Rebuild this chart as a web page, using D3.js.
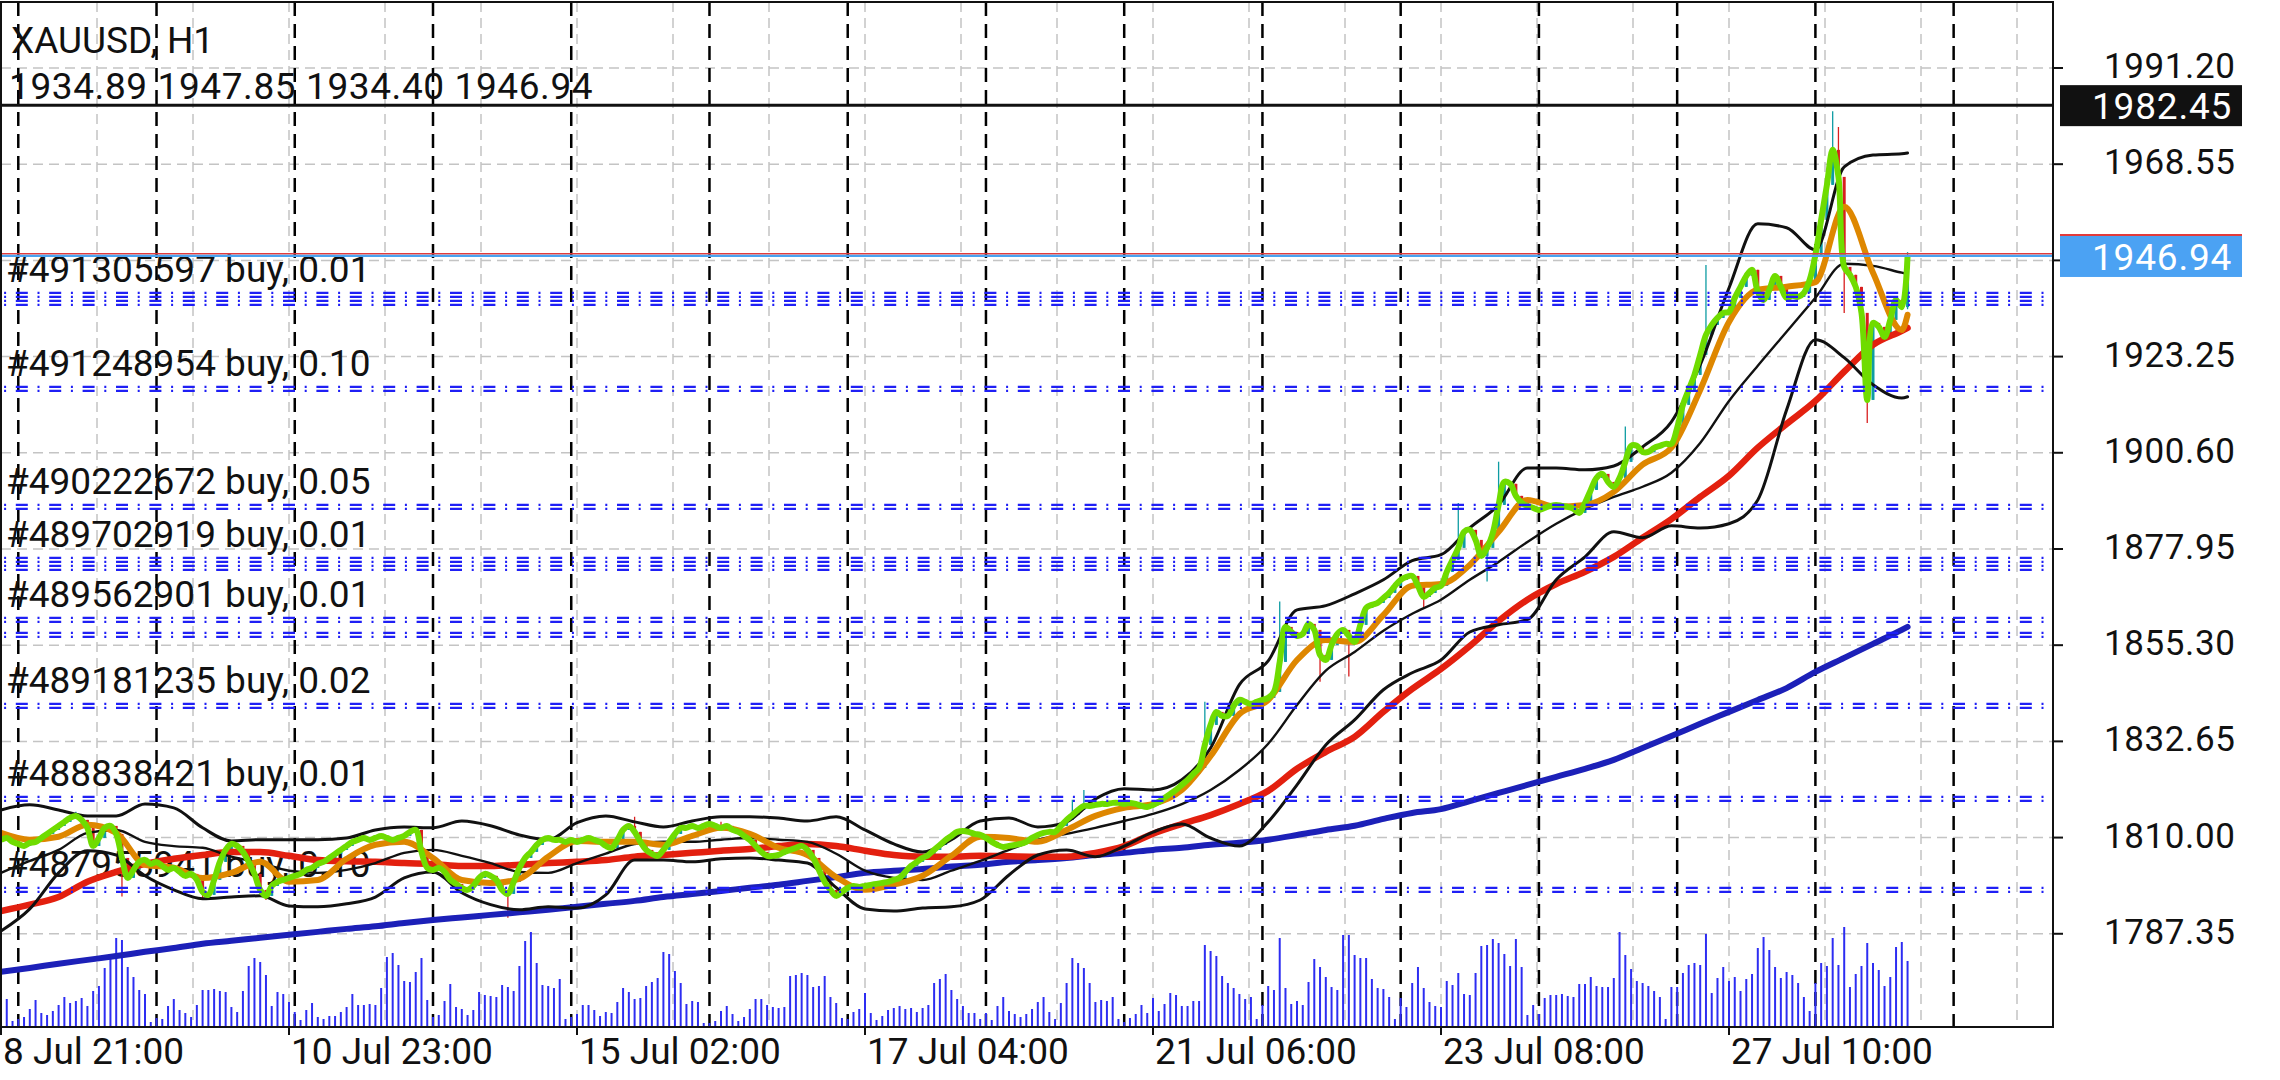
<!DOCTYPE html>
<html><head><meta charset="utf-8">
<script src="https://cdn.jsdelivr.net/npm/d3@7"></script>
<style>body{margin:0;background:#fff}svg{display:block}text{font-family:Roboto,"Noto Sans",sans-serif}</style>
</head><body>
<svg id="c" width="2280" height="1080"></svg>
<script>
const symbolLabel = "XAUUSD, H1";
const lastOHLC = [1934.89, 1947.85, 1934.40, 1946.94];
const alertPrice = 1982.45;
const bidPrice = 1946.94;
const askPrice = 1947.45;

const closes = [
1809.45,1809.92,1808.98,1808.51,1808.04,1808.75,1808.98,1809.92,1810.86,1811.81,
1812.75,1813.69,1814.63,1815.10,1814.16,1812.28,1808.04,1809.92,1812.28,1812.75,
1810.86,1805.21,1800.51,1802.39,1804.27,1804.74,1803.80,1804.27,1803.33,1802.39,
1802.86,1801.92,1800.98,1801.45,1800.04,1797.21,1796.51,1800.04,1804.27,1807.10,
1808.51,1808.04,1806.63,1804.27,1801.45,1797.68,1796.27,1798.62,1799.56,1800.04,
1800.51,1800.98,1801.45,1802.39,1802.86,1803.80,1804.27,1805.21,1806.16,1807.10,
1808.04,1808.98,1809.45,1809.92,1809.45,1809.92,1810.39,1809.92,1809.45,1809.92,
1810.39,1811.34,1811.81,1806.63,1802.86,1802.39,1802.86,1801.92,1800.04,1799.09,
1798.15,1797.68,1798.62,1800.51,1801.45,1800.98,1800.04,1797.68,1796.74,1799.56,
1802.86,1805.21,1806.63,1808.27,1809.45,1809.92,1809.45,1809.45,1808.98,1809.45,
1808.98,1809.45,1809.92,1809.45,1808.98,1808.04,1807.57,1809.45,1811.81,1812.75,
1811.34,1808.98,1807.10,1806.16,1805.69,1807.10,1808.98,1810.86,1812.28,1812.28,
1812.75,1812.28,1812.75,1813.22,1812.75,1812.28,1812.75,1811.81,1811.34,1810.39,
1809.45,1808.04,1806.63,1805.69,1805.69,1805.92,1806.63,1807.10,1807.57,1808.04,
1807.10,1805.21,1802.39,1799.56,1797.68,1796.27,1797.21,1798.15,1798.62,1798.39,
1798.62,1798.86,1799.09,1799.33,1799.56,1800.04,1800.51,1801.92,1803.33,1804.27,
1805.21,1805.92,1807.10,1808.27,1809.45,1810.39,1811.34,1811.57,1811.34,1810.86,
1810.63,1809.92,1808.98,1808.27,1807.80,1808.04,1808.27,1808.51,1808.98,1809.92,
1810.63,1811.10,1811.34,1811.34,1812.75,1814.16,1815.34,1816.52,1817.46,1817.46,
1817.69,1817.93,1817.93,1818.17,1818.17,1817.93,1818.17,1817.93,1817.46,1817.22,
1817.69,1818.40,1819.34,1820.29,1821.23,1822.41,1823.58,1825.00,1826.41,1831.82,
1836.53,1839.59,1838.65,1838.65,1841.01,1842.42,1841.95,1841.48,1841.95,1842.42,
1842.89,1844.30,1851.36,1859.60,1858.42,1857.48,1857.95,1860.31,1858.90,1853.01,
1851.84,1855.37,1857.95,1858.90,1857.48,1856.07,1860.08,1864.08,1864.79,1865.26,
1866.43,1867.61,1869.26,1870.67,1871.38,1871.61,1869.26,1866.67,1867.61,1868.79,
1869.26,1872.56,1875.38,1878.21,1881.97,1882.45,1880.09,1876.32,1878.21,1881.74,
1888.33,1893.74,1893.28,1890.45,1888.80,1888.09,1887.63,1887.15,1887.63,1888.09,
1888.33,1888.09,1887.86,1887.39,1886.45,1888.80,1891.86,1894.69,1895.63,1893.74,
1892.57,1894.69,1898.46,1902.23,1902.23,1900.81,1900.81,1901.75,1902.23,1902.70,
1902.70,1906.47,1911.88,1915.41,1918.94,1923.65,1928.36,1930.71,1932.36,1933.54,
1933.78,1937.07,1939.66,1942.25,1943.67,1938.49,1936.60,1938.96,1942.25,1939.66,
1937.07,1937.55,1937.31,1938.25,1941.31,1947.20,1955.44,1963.68,1971.92,1965.56,
1944.37,1942.49,1939.66,1933.54,1913.05,1931.18,1930.24,1927.89,1931.89,1936.60,
1934.89,1946.94];

const spikeBars  = [13,21,35,46,88,110,125,145,186,188,209,222,229,234,247,253,258,260,282,296,318,319,320,324,331];
const spikeHighs = [1816.1,null,null,null,null,1814.9,1813.7,null,1818.9,1821.2,1842.0,1865.6,null,null,null,1888.8,null,1898.5,1906.8,1944.8,1981.0,1977.3,null,null,1947.85];
const spikeLows  = [null,1796.1,1795.5,1795.3,1791.1,null,null,1795.8,null,null,null,null,1846.7,1847.9,1864.1,null,1870.3,null,null,null,null,null,1933.5,1907.6,1934.40];

const volumes = [
35,28,6,8,10,18,27,14,12,16,22,30,24,
26,29,21,36,41,59,70,89,87,60,50,37,33,5,9,8,21,28,17,14,10,22,37,37,38,
36,35,20,15,36,61,69,65,52,21,35,33,25,15,7,17,24,10,8,11,11,15,20,33,22,
22,23,22,39,70,74,62,46,45,55,69,27,10,12,26,43,20,18,12,17,35,32,31,30,42,
40,36,61,86,95,64,42,41,39,48,8,10,13,22,22,17,11,15,14,25,39,35,28,29,41,
45,49,75,73,56,44,23,26,25,4,4,6,16,21,13,6,10,18,28,28,22,20,19,20,51,
52,54,52,40,41,51,30,24,9,8,15,18,34,14,7,11,17,19,21,18,19,15,19,22,44,
48,53,37,28,21,14,14,8,14,7,
21,30,16,13,10,13,18,25,30,15,8,24,44,69,64,59,44,25,27,26,30,8,5,9,13,22,14,
29,16,23,34,32,21,21,26,26,82,76,71,51,44,39,33,28,30,8,22,41,37,89,39,23,26,22,45,68,60,50,40,
37,92,92,72,69,69,48,39,38,30,8,29,20,44,60,39,25,21,20,46,42,54,33,32,54,81,82,88,84,73,
61,88,60,12,22,13,29,32,32,33,31,30,43,43,50,41,40,40,49,95,72,58,46,44,41,36,30,8,40,40,54,62,64,
62,93,34,49,60,46,50,36,48,53,79,90,77,60,49,55,52,44,30,16,44,64,61,89,62,100,40,53,61,84,64,57,41,50,80,85,66];

// indicator readings, one value every 5 bars (bars 0,5,...,330) plus the last bar 331
const maOrange = [1811.1,1809.5,1810.2,1813.0,1811.1,1803.6,1802.9,1800.5,1801.7,1804.3,1799.6,1800.0,1805.0,1808.3,1809.0,1805.2,1800.0,1799.3,1800.3,1805.5,1809.2,1809.0,1809.0,1808.3,1810.4,1812.3,1810.9,1807.6,1805.9,1800.7,1797.7,1798.9,1801.0,1805.7,1810.2,1809.9,1809.0,1811.8,1815.1,1817.0,1817.9,1821.2,1829.2,1839.1,1842.4,1851.8,1856.5,1856.1,1862.4,1869.3,1869.7,1874.2,1882.0,1889.5,1887.9,1888.3,1891.4,1897.8,1901.8,1915.4,1931.4,1939.0,1939.7,1940.8,1958.5,1943.0,1929.5,1933.1];
const maRed = [1792.7,1794.2,1796.0,1799.6,1801.9,1803.8,1805.0,1805.9,1806.6,1806.6,1805.7,1804.7,1804.4,1804.3,1804.0,1803.8,1803.3,1803.3,1803.6,1804.0,1804.3,1804.7,1805.5,1805.9,1806.4,1806.9,1807.3,1808.0,1808.5,1808.0,1806.9,1805.9,1805.5,1805.5,1805.7,1805.6,1805.5,1805.5,1806.4,1808.0,1810.9,1813.2,1815.3,1817.9,1821.0,1826.2,1830.2,1833.7,1839.6,1845.0,1849.7,1855.1,1861.0,1866.0,1869.7,1872.6,1876.1,1880.6,1885.0,1890.2,1895.2,1901.8,1907.4,1912.8,1919.7,1926.0,1929.3,1930.0];
const maBlue = [1778.4,1779.3,1780.3,1781.2,1782.1,1783.1,1784.0,1785.0,1785.7,1786.4,1787.1,1787.8,1788.5,1789.1,1789.9,1790.6,1791.2,1791.8,1792.4,1793.0,1793.7,1794.4,1795.1,1796.0,1796.7,1797.4,1798.2,1798.9,1799.8,1800.7,1801.7,1802.2,1802.6,1803.2,1803.6,1804.3,1804.7,1805.2,1805.9,1806.4,1807.1,1807.6,1808.3,1808.8,1809.5,1810.6,1811.8,1812.8,1814.4,1815.8,1816.7,1818.6,1820.5,1822.4,1824.3,1826.2,1828.3,1831.1,1833.9,1836.8,1839.6,1842.4,1845.2,1849.0,1852.3,1855.6,1858.9,1859.6];
const bbUpper = [1816.5,1817.7,1816.5,1815.1,1815.1,1817.9,1817.0,1812.3,1809.2,1809.5,1809.5,1809.5,1809.9,1811.8,1812.5,1812.3,1813.9,1812.8,1810.6,1809.5,1813.5,1815.1,1813.7,1812.5,1813.9,1814.9,1814.9,1814.6,1813.9,1814.9,1811.8,1808.5,1806.6,1809.5,1813.9,1814.6,1812.5,1813.7,1819.1,1821.5,1821.2,1823.6,1831.1,1846.0,1851.6,1863.6,1864.6,1867.4,1870.7,1875.2,1876.6,1882.9,1888.3,1897.0,1897.0,1896.6,1897.5,1902.0,1907.9,1921.3,1939.4,1954.5,1953.6,1948.4,1967.9,1970.7,1971.0,1971.2];
const bbMiddle = [1801.7,1804.5,1807.1,1811.1,1811.8,1809.0,1808.0,1807.6,1805.5,1804.0,1802.2,1801.7,1802.4,1804.0,1806.4,1807.1,1805.7,1804.0,1801.9,1801.7,1804.0,1806.2,1808.5,1809.0,1809.0,1809.5,1809.9,1809.5,1809.0,1806.2,1802.2,1800.5,1800.0,1802.2,1804.5,1807.1,1809.5,1810.9,1812.3,1813.9,1815.6,1817.9,1821.2,1825.9,1832.1,1841.2,1849.3,1853.7,1858.7,1862.7,1866.0,1870.7,1874.9,1879.6,1883.9,1887.4,1890.2,1892.6,1895.9,1902.9,1912.8,1921.1,1929.1,1937.1,1945.1,1944.6,1943.0,1942.7];
const bbLower = [1788.0,1793.2,1801.7,1806.9,1805.9,1801.0,1797.7,1795.6,1796.0,1796.3,1793.9,1793.7,1794.4,1796.0,1800.5,1801.9,1797.0,1794.2,1793.0,1793.7,1793.4,1796.5,1804.7,1804.7,1804.3,1805.0,1805.2,1804.7,1804.0,1798.2,1793.2,1792.7,1793.4,1793.7,1795.3,1801.2,1805.9,1807.1,1805.5,1808.0,1811.3,1813.2,1809.9,1808.0,1813.7,1822.4,1831.8,1837.7,1844.8,1848.8,1851.8,1858.4,1860.1,1861.3,1870.7,1876.1,1882.0,1880.6,1883.4,1882.9,1883.9,1889.5,1910.7,1927.2,1923.0,1916.6,1913.5,1913.8];
const sampleBars = [0,5,10,15,20,25,30,35,40,45,50,55,60,65,70,75,80,85,90,95,100,105,110,115,120,125,130,135,140,145,150,155,160,165,170,175,180,185,190,195,200,205,210,215,220,225,230,235,240,245,250,255,260,265,270,275,280,285,290,295,300,305,310,315,320,325,330,331];

const priceTicks = [1991.20,1968.55,1945.90,1923.25,1900.60,1877.95,1855.30,1832.65,1810.00,1787.35];
const timeTickBars = [0,50,100,150,200,250,300];
const timeTickLabels = ["8 Jul 21:00","10 Jul 23:00","15 Jul 02:00","17 Jul 04:00","21 Jul 06:00","23 Jul 08:00","27 Jul 10:00"];
const daySeparatorBars = [3,27,51,75,99,123,147,171,195,219,243,267,291,315,339];

const orderPrices = [1938.25,1936.37,1916.12,1888.33,1875.85,1873.97,1861.72,1858.19,1841.48,1819.58,1798.15];
const orderLabels = ["#491305597 buy, 0.01","","#491248954 buy, 0.10","#490222672 buy, 0.05","#489702919 buy, 0.01","","#489562901 buy, 0.01","","#489181235 buy, 0.02","#488838421 buy, 0.01","#487955941 buy, 0.10"];

// ---------------- drawing ----------------
const svg = d3.select("#c");
const L = 1, R = 2053, T = 2, B = 1027;
const x = d3.scaleLinear().domain([0, 300]).range([1, 1729]);
const y = d3.scaleLinear().domain([1765.4, 2006.5]).range([B, 3]);
const vy = d3.scaleLinear().domain([0, 100]).range([B, B - 100]);

svg.append("rect").attr("width", 2280).attr("height", 1080).attr("fill", "#fff");
svg.append("clipPath").attr("id", "plot").append("rect").attr("x", L).attr("y", T).attr("width", R - L).attr("height", B - T);
const g = svg.append("g").attr("clip-path", "url(#plot)");

// grid
g.append("g").selectAll("line").data(priceTicks).join("line")
  .attr("x1", L).attr("x2", R).attr("y1", d => y(d)).attr("y2", d => y(d))
  .attr("stroke", "#c4c4c4").attr("stroke-width", 1.5).attr("stroke-dasharray", "10,6");
g.append("g").selectAll("line").data(d3.range(0, 22)).join("line")
  .attr("x1", k => x(k * 50 / 3)).attr("x2", k => x(k * 50 / 3)).attr("y1", T).attr("y2", B)
  .attr("stroke", "#c4c4c4").attr("stroke-width", 1.5).attr("stroke-dasharray", "10,6");
g.append("g").selectAll("line").data(daySeparatorBars).join("line")
  .attr("x1", d => x(d)).attr("x2", d => x(d)).attr("y1", T).attr("y2", B)
  .attr("stroke", "#000").attr("stroke-width", 2.5).attr("stroke-dasharray", "14,8");

// volumes
g.append("g").selectAll("line").data(volumes).join("line")
  .attr("x1", (d, i) => x(i)).attr("x2", (d, i) => x(i)).attr("y1", B).attr("y2", d => vy(d))
  .attr("stroke", "#2d2df2").attr("stroke-width", 2);

// top texts
svg.append("text").attr("x", 11).attr("y", 53).attr("font-size", 37).attr("fill", "#111").text(symbolLabel);
svg.append("text").attr("x", 9).attr("y", 99).attr("font-size", 37).attr("letter-spacing", 0.6).attr("fill", "#111")
  .text(lastOHLC.map(v => v.toFixed(2)).join(" "));

// order labels
g.append("g").selectAll("text").data(orderPrices.map((p, i) => ({p, t: orderLabels[i]})).filter(d => d.t)).join("text")
  .attr("x", 6).attr("y", d => y(d.p) - 11).attr("font-size", 37).attr("fill", "#111").text(d => d.t);

// candles
const candles = closes.map((c, i) => {
  const o = i === closes.length - 1 ? lastOHLC[0] : (i === 0 ? c : closes[i - 1]);
  let h = Math.max(o, c), l = Math.min(o, c);
  const k = spikeBars.indexOf(i);
  if (k >= 0) { if (spikeHighs[k] != null) h = Math.max(h, spikeHighs[k]); if (spikeLows[k] != null) l = Math.min(l, spikeLows[k]); }
  return {i, o, c, h, l};
});
const cg = g.append("g");
cg.selectAll("line").data(candles).join("line")
  .attr("x1", d => x(d.i)).attr("x2", d => x(d.i)).attr("y1", d => y(d.h)).attr("y2", d => y(d.l))
  .attr("stroke", d => d.c >= d.o ? "#0e9ca3" : "#d81e1e").attr("stroke-width", 1.3);
cg.selectAll("rect").data(candles).join("rect")
  .attr("x", d => x(d.i) - 1.5).attr("width", 3)
  .attr("y", d => y(Math.max(d.o, d.c))).attr("height", d => Math.max(1, Math.abs(y(d.o) - y(d.c))))
  .attr("fill", d => d.c >= d.o ? "#0e9ca3" : "#d81e1e");

// indicator lines
const sLine = d3.line().x(d => x(d[0])).y(d => y(d[1])).curve(d3.curveMonotoneX);
function drawSeries(vals, color, w) {
  g.append("path").datum(vals.map((v, k) => [sampleBars[k], v]))
    .attr("d", sLine).attr("fill", "none").attr("stroke", color).attr("stroke-width", w)
    .attr("stroke-linejoin", "round").attr("stroke-linecap", "round");
}
drawSeries(maBlue, "#1c20b8", 6);
drawSeries(maRed, "#e3200f", 6.5);
drawSeries(bbLower, "#111", 3);
drawSeries(bbMiddle, "#111", 2.4);
drawSeries(bbUpper, "#111", 3);
drawSeries(maOrange, "#de8700", 6);
g.append("path").datum(closes.map((c, i) => [i, c]))
  .attr("d", d3.line().x(d => x(d[0])).y(d => y(d[1])).curve(d3.curveCatmullRom))
  .attr("fill", "none").attr("stroke", "#6fdc00").attr("stroke-width", 6).attr("stroke-linejoin", "round");

// order lines (double dash-dot)
const og = g.append("g");
orderPrices.forEach(p => {
  [0, 4].forEach(off => {
    og.append("line").attr("x1", L).attr("x2", R).attr("y1", y(p) + off).attr("y2", y(p) + off)
      .attr("stroke", "#1f1ff5").attr("stroke-width", 2.4).attr("stroke-dasharray", "12,9.7,2,9.7").attr("stroke-dashoffset", 18.6);
  });
});

// alert line and price lines
g.append("line").attr("x1", L).attr("x2", R).attr("y1", y(alertPrice)).attr("y2", y(alertPrice)).attr("stroke", "#111").attr("stroke-width", 3);
g.append("line").attr("x1", L).attr("x2", R).attr("y1", y(askPrice)).attr("y2", y(askPrice)).attr("stroke", "#e33b3b").attr("stroke-width", 1.5);
g.append("line").attr("x1", L).attr("x2", R).attr("y1", y(bidPrice)).attr("y2", y(bidPrice)).attr("stroke", "#4aa3f0").attr("stroke-width", 2.2);

// frame
svg.append("rect").attr("x", L).attr("y", T).attr("width", R - L).attr("height", B - T).attr("fill", "none").attr("stroke", "#111").attr("stroke-width", 2);

// price axis (labels hidden where a price box sits)
const pa = svg.append("g");
pa.selectAll("line").data(priceTicks).join("line").attr("x1", R).attr("x2", R + 10).attr("y1", d => y(d)).attr("y2", d => y(d)).attr("stroke", "#111").attr("stroke-width", 2);
const boxPrices = [alertPrice, bidPrice];
pa.selectAll("text").data(priceTicks.filter(p => boxPrices.every(b => Math.abs(y(p) - y(b)) > 36))).join("text")
  .attr("x", 2104).attr("y", d => y(d) + 10)
  .attr("font-size", 35).attr("letter-spacing", 0.6).attr("fill", "#111").text(d => d.toFixed(2));

function priceBox(p, fill, textColor, border) {
  const cy = y(p);
  svg.append("rect").attr("x", 2060).attr("y", cy - 20).attr("width", 182).attr("height", 41).attr("fill", fill);
  if (border) svg.append("line").attr("x1", 2060).attr("x2", 2242).attr("y1", cy - 21).attr("y2", cy - 21).attr("stroke", border).attr("stroke-width", 2);
  svg.append("text").attr("x", 2092).attr("y", cy + 14).attr("font-size", 37).attr("letter-spacing", 0.8).attr("fill", textColor).text(p.toFixed(2));
}
priceBox(alertPrice, "#111", "#fff", null);
priceBox(bidPrice, "#4ba2f3", "#fff", "#e33b3b");

// time axis
const ta = svg.append("g");
ta.selectAll("line").data(timeTickBars).join("line").attr("x1", d => x(d)).attr("x2", d => x(d)).attr("y1", B).attr("y2", B + 8).attr("stroke", "#111").attr("stroke-width", 2);
ta.selectAll("text").data(timeTickBars).join("text").attr("x", d => x(d) + 2).attr("y", 1064)
  .attr("font-size", 37).attr("fill", "#111").text((d, i) => timeTickLabels[i]);
</script>
</body></html>
